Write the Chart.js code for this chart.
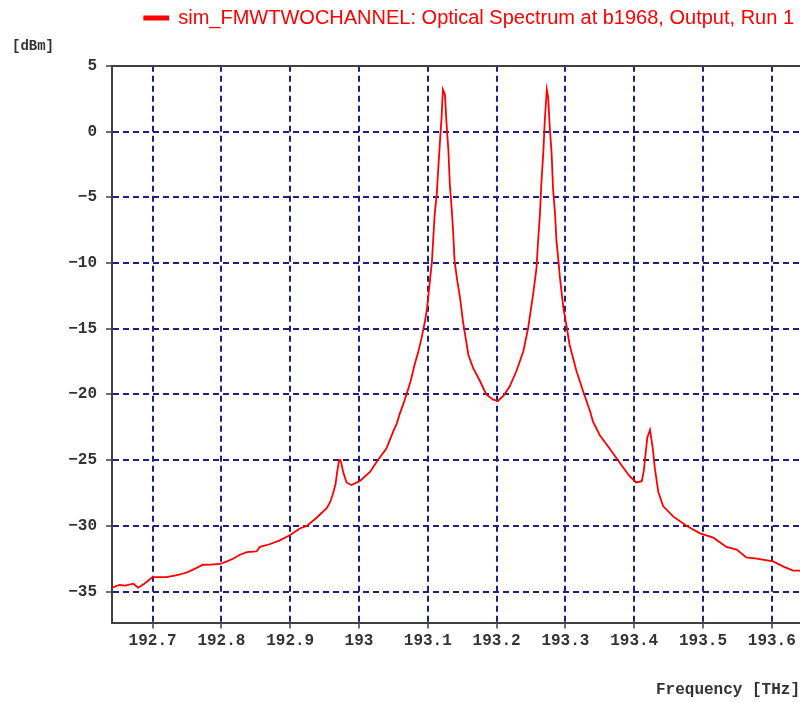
<!DOCTYPE html>
<html>
<head>
<meta charset="utf-8">
<script src="https://cdn.jsdelivr.net/npm/chart.js@4.4.1/dist/chart.umd.min.js"></script>
<style>
  html, body { margin: 0; padding: 0; background: #fff; }
</style>
</head>
<body>
<canvas id="spectrum" width="800" height="702"></canvas>
<script>
const seriesLabel = 'sim_FMWTWOCHANNEL: Optical Spectrum at b1968, Output, Run 1';

// frequency [THz] and power [dBm]
const freqTHz = [
  192.641, 192.652, 192.660, 192.672, 192.679, 192.688, 192.700, 192.710, 192.720, 192.730,
  192.740, 192.752, 192.764, 192.773, 192.785, 192.798, 192.808, 192.817, 192.827, 192.837,
  192.851, 192.856, 192.870, 192.885, 192.900, 192.914, 192.924, 192.938, 192.953, 192.958,
  192.962, 192.966, 192.968, 192.971, 192.973, 192.975, 192.977, 192.980, 192.982, 192.989,
  193.001, 193.016, 193.026, 193.040, 193.050, 193.055, 193.059, 193.064, 193.069, 193.075,
  193.081, 193.086, 193.091, 193.096, 193.099, 193.103, 193.106, 193.108, 193.110, 193.113,
  193.115, 193.118, 193.120, 193.122, 193.125, 193.127, 193.130, 193.132, 193.135, 193.137,
  193.139, 193.143, 193.147, 193.151, 193.159, 193.166, 193.176, 193.185, 193.195, 193.202,
  193.210, 193.219, 193.229, 193.239, 193.246, 193.253, 193.258, 193.260, 193.263, 193.265,
  193.268, 193.270, 193.273, 193.275, 193.277, 193.280, 193.282, 193.285, 193.287, 193.290,
  193.292, 193.297, 193.302, 193.306, 193.316, 193.326, 193.336, 193.340, 193.350, 193.364,
  193.379, 193.393, 193.403, 193.411, 193.414, 193.416, 193.419, 193.423, 193.427, 193.430,
  193.435, 193.442, 193.457, 193.476, 193.495, 193.515, 193.534, 193.549, 193.563, 193.578,
  193.602, 193.617, 193.631, 193.641
];
const powerDbm = [
  -34.7, -34.5, -34.55, -34.4, -34.7, -34.4, -33.9, -33.9, -33.9, -33.8,
  -33.7, -33.5, -33.2, -32.96, -32.95, -32.9, -32.7, -32.5, -32.2, -32.0,
  -31.95, -31.6, -31.4, -31.1, -30.7, -30.2, -30.0, -29.4, -28.65, -28.2,
  -27.6, -26.8, -26.0, -25.0, -25.0, -25.4, -25.9, -26.4, -26.7, -26.9,
  -26.6, -25.9, -25.1, -24.1, -22.8, -22.2, -21.5, -20.8, -20.0, -19.0,
  -17.7, -16.8, -15.7, -14.4, -13.4, -11.4, -9.9, -8.1, -6.3, -4.8,
  -3.0, -0.5, 1.05, 3.2, 2.8, 0.8, -1.5, -4.0, -6.05, -7.8,
  -9.9, -11.4, -12.7, -14.4, -17.0, -18.0, -19.0, -20.0, -20.4, -20.5,
  -20.1, -19.4, -18.2, -16.7, -14.9, -12.4, -10.4, -8.6, -6.3, -4.0,
  -1.5, 0.8, 3.2, 2.6, 0.55, -1.7, -4.3, -6.3, -8.3, -9.9,
  -11.1, -13.4, -14.9, -16.2, -18.2, -19.8, -21.3, -22.05, -23.1, -24.1,
  -25.2, -26.2, -26.7, -26.6, -25.8, -24.8, -23.3, -22.7, -24.1, -25.6,
  -27.4, -28.5, -29.3, -30.0, -30.55, -30.9, -31.6, -31.8, -32.4, -32.5,
  -32.7, -33.1, -33.4, -33.4
];

const xTicks = [192.7, 192.8, 192.9, 193.0, 193.1, 193.2, 193.3, 193.4, 193.5, 193.6];
const yTicks = [5, 0, -5, -10, -15, -20, -25, -30, -35];

const gridColor = '#1f1f88';
const axisColor = '#404040';
const textColor = '#333';
const monoFont = { family: "'Liberation Mono', 'DejaVu Sans Mono', monospace", size: 16, weight: 'bold' };

const points = freqTHz.map((f, i) => ({ x: f, y: powerDbm[i] }));

new Chart(document.getElementById('spectrum'), {
  type: 'line',
  data: {
    datasets: [{
      label: seriesLabel,
      data: points,
      borderColor: '#ff0000',
      backgroundColor: '#ff0000',
      borderWidth: 1.8,
      pointRadius: 0,
      tension: 0
    }]
  },
  options: {
    responsive: false,
    animation: false,
    layout: { padding: { left: 12, right: 0, top: 2, bottom: 0 } },
    plugins: {
      legend: {
        position: 'top',
        align: 'end',
        labels: {
          color: '#ff0000',
          font: { family: "'Liberation Sans', Arial, sans-serif", size: 20 },
          boxWidth: 24,
          boxHeight: 3,
          padding: 6
        }
      },
      title: {
        display: true,
        text: '[dBm]',
        align: 'start',
        weight: 500, // sit under the legend
        color: textColor,
        font: { ...monoFont, size: 14 },
        padding: { top: 0, bottom: 11 }
      },
      tooltip: { enabled: false }
    },
    scales: {
      x: {
        type: 'linear',
        min: 192.641,
        max: 193.641,
        afterBuildTicks: s => { s.ticks = xTicks.map(v => ({ value: v })); },
        ticks: {
          callback: v => String(+v.toFixed(1)),
          font: monoFont,
          color: textColor,
          padding: 3,
          maxRotation: 0,
          autoSkip: false
        },
        grid: { color: gridColor, lineWidth: 2, tickLength: 6, tickColor: axisColor, tickWidth: 1.5 },
        border: { color: axisColor, width: 2, dash: [6, 4] },
        title: {
          display: true,
          text: 'Frequency [THz]',
          align: 'end',
          color: textColor,
          font: monoFont,
          padding: { top: 27, bottom: 2 }
        }
      },
      xTop: {
        type: 'linear',
        position: 'top',
        ticks: { display: false },
        grid: { display: false, drawTicks: false },
        border: { display: true, color: axisColor, width: 2 }
      },
      y: {
        min: -37.36,
        max: 5,
        afterBuildTicks: s => { s.ticks = yTicks.map(v => ({ value: v })); },
        afterFit: s => { s.width = 100; },
        ticks: {
          callback: v => v < 0 ? '\u2212' + Math.abs(v) : String(v),
          font: monoFont,
          color: textColor,
          padding: 9
        },
        grid: { color: gridColor, lineWidth: 2, tickLength: 6, tickColor: axisColor, tickWidth: 1.5 },
        border: { color: axisColor, width: 2, dash: [6, 4] }
      }
    }
  }
});
</script>
</body>
</html>
